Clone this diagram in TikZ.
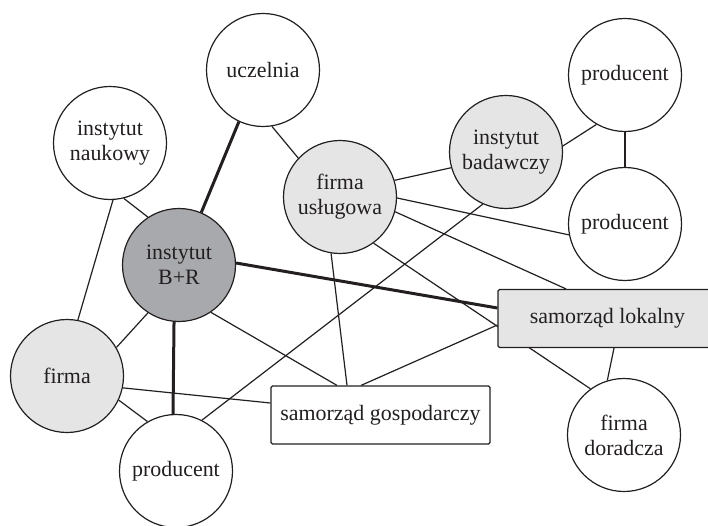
\documentclass[tikz,border=0pt]{standalone}
\usepackage{fontspec}
\setmainfont{Liberation Serif}
\usetikzlibrary{backgrounds}
\definecolor{ink}{RGB}{35,31,32}
\definecolor{lightfill}{RGB}{229,229,230}
\definecolor{darkfill}{RGB}{168,169,172}
\begin{document}
\begin{tikzpicture}[x=1bp,y=-1bp,
  lbl/.style={font=\fontsize{22}{25}\selectfont, text=ink, align=center},
  circ/.style={lbl, circle, draw=ink, line width=1.2bp, minimum size=113bp, inner sep=0pt, fill=white},
  lightcirc/.style={circ, fill=lightfill},
  darkcirc/.style={circ, fill=darkfill},
  rbox/.style={lbl, rectangle, draw=ink, line width=1.2bp, rounded corners=1.5bp, minimum width=219bp, minimum height=58bp, inner sep=0pt, fill=white},
  lightbox/.style={rbox, fill=lightfill},
  link/.style={draw=ink, line width=1.2bp},
  strong/.style={draw=ink, line width=3bp}]
\useasboundingbox (0,0) rectangle (708,526);

\node[circ] (ucz) at (263,70) {uczelnia};
\node[circ] (inauk) at (110,143) {instytut\\naukowy};
\node[circ] (ptop) at (625,75) {producent};
\node[lightcirc] (ibad) at (506,152) {instytut\\badawczy};
\node[lightcirc] (fusl) at (340,197) {firma\\usługowa};
\node[circ] (pright) at (625,224) {producent};
\node[darkcirc] (ibr) at (179,265) {instytut\\B+R};
\node[lightcirc] (firma) at (67,376) {firma};
\node[circ] (pbot) at (176,471) {producent};
\node[circ] (fdor) at (624,435) {firma\\doradcza};
\node[rbox] (sgosp) at (380.5,415) {samorząd gospodarczy};
\node[lightbox] (slok) at (607.5,318.5) {samorząd lokalny};

\begin{scope}[on background layer]
  \draw[strong] (ucz.245) -- (ibr.67);
  \draw[link] (ucz.279) -- (fusl.137);
  \draw[link] (inauk.284) -- (ibr.123);
  \draw[link] (inauk.273) -- (firma.79);
  \draw[link] (ibr.237) -- (firma.30);
  \draw[strong] (ibr.265) -- (pbot.93);
  \draw[strong] (ibr.2) -- ([yshift=10.5bp]slok.west);
  \draw[link] (ibr.304) -- ([xshift=-43.5bp]sgosp.north);
  \draw[link] (firma.348) -- ([yshift=12bp]sgosp.west);
  \draw[link] (firma.335) -- (pbot.120);
  \draw[link] (ibad.246) -- (pbot.63);
  \draw[link] (fusl.261) -- ([xshift=-33.5bp]sgosp.north);
  \draw[link] (fusl.17) -- (ibad.196);
  \draw[link] (fusl.359) -- (pright.191);
  \draw[link] (fusl.345) -- ([xshift=-41.5bp]slok.north);
  \draw[link] (fusl.306) -- (fdor.126);
  \draw[link] ([xshift=-19.5bp]sgosp.north) -- ([yshift=-6.5bp]slok.west);
  \draw[link] ([xshift=6.5bp]slok.south) -- (fdor.107);
  \draw[link] (ibad.6) -- (ptop.240);
  \draw[link] (ptop.south) -- (pright.north);
\end{scope}
\end{tikzpicture}
\end{document}
